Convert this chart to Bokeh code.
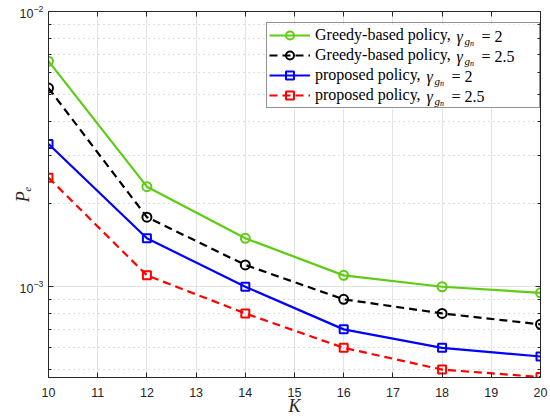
from bokeh.plotting import figure
from bokeh.models import (LinearAxis, LogAxis, FixedTicker, Legend, LegendItem,
                          Range1d)
from bokeh.core.properties import value
from bokeh.embed import file_html
from bokeh.resources import INLINE

# ---- data ----
K = [10, 12, 14, 16, 18, 20]
greedy_2 = [6.6e-3, 2.31e-3, 1.50e-3, 1.10e-3, 1.00e-3, 9.5e-4]
greedy_25 = [5.27e-3, 1.79e-3, 1.20e-3, 9.0e-4, 8.0e-4, 7.3e-4]
proposed_2 = [3.30e-3, 1.50e-3, 1.00e-3, 7.0e-4, 6.0e-4, 5.58e-4]
proposed_25 = [2.49e-3, 1.10e-3, 8.0e-4, 6.0e-4, 5.0e-4, 4.7e-4]
x_ticks = list(range(10, 21))
y_major = [1e-3, 1e-2]
y_minor = [5e-4, 6e-4, 7e-4, 8e-4, 9e-4] + [m * 1e-3 for m in range(2, 10)]
legend_names = ["Greedy-based policy,", "Greedy-based policy,",
                "proposed policy,", "proposed policy,"]
legend_vals = ["= 2", "= 2.5", "= 2", "= 2.5"]

AX = "#262626"
GREEN = "#5fcc14"

p = figure(width=550, height=418, y_axis_type="log", output_backend="svg",
           toolbar_location=None, x_range=Range1d(10, 20),
           y_range=Range1d(4.68e-4, 1e-2),
           min_border_left=48, min_border_right=10, min_border_top=11,
           min_border_bottom=10)
p.background_fill_color = "white"
p.outline_line_color = AX
p.outline_line_width = 1

# axes styling
for ax in p.xaxis + p.yaxis:
    ax.axis_line_color = AX
    ax.major_tick_line_color = AX
    ax.minor_tick_line_color = AX
    ax.major_tick_in = 5
    ax.major_tick_out = 0
    ax.minor_tick_in = 3
    ax.minor_tick_out = 0
    ax.major_label_text_color = AX
    ax.major_label_text_font = "Liberation Sans"
    ax.major_label_text_font_size = "12.5px"
    ax.axis_label_text_font = "Liberation Serif"
    ax.axis_label_text_font_style = "italic"
    ax.axis_label_text_font_size = "18px"
    ax.axis_label_text_color = AX

p.xaxis.ticker = FixedTicker(ticks=x_ticks)
p.yaxis.ticker = FixedTicker(ticks=y_major, minor_ticks=y_minor)
p.xaxis.axis_label = "K"
p.yaxis.axis_label = "P\u2091"
p.xaxis.major_label_standoff = 10
p.xaxis.axis_label_standoff = -4
p.yaxis.major_label_standoff = 5
p.yaxis.axis_label_standoff = -16

# top & right axes (ticks only)
top = LinearAxis(ticker=FixedTicker(ticks=x_ticks), major_label_text_font_size="1px",
                 major_label_text_color=None, major_label_standoff=0,
                 major_tick_in=5, major_tick_out=0,
                 minor_tick_in=0, minor_tick_out=0, axis_line_color=AX,
                 major_tick_line_color=AX)
right = LogAxis(ticker=FixedTicker(ticks=y_major, minor_ticks=y_minor),
                major_label_text_font_size="1px", major_label_text_color=None,
                major_label_standoff=0,
                major_tick_in=5, major_tick_out=0, minor_tick_in=3, minor_tick_out=0,
                axis_line_color=AX, major_tick_line_color=AX, minor_tick_line_color=AX)
p.add_layout(top, "above")
p.add_layout(right, "right")

# grids
p.xgrid.grid_line_color = "#e3e3e3"
p.ygrid.grid_line_color = "#e3e3e3"
p.ygrid.minor_grid_line_color = "#bdbdbd"
p.ygrid.minor_grid_line_dash = "1 4"
p.ygrid.minor_grid_line_width = 1

# series
r1l = p.line(K, greedy_2, line_color=GREEN, line_width=2.2)
r1m = p.scatter(K, greedy_2, marker="circle", size=9, line_color=GREEN,
                fill_color=None, line_width=2)
r2l = p.line(K, greedy_25, line_color="black", line_width=2.2, line_dash="8 5")
r2m = p.scatter(K, greedy_25, marker="circle", size=9, line_color="black",
                fill_color=None, line_width=2)
r3l = p.line(K, proposed_2, line_color="#0000ff", line_width=2.2)
r3m = p.scatter(K, proposed_2, marker="square", size=8, line_color="#0000ff",
                fill_color=None, line_width=2)
r4l = p.line(K, proposed_25, line_color="#ff0000", line_width=2.2, line_dash="8 5")
r4m = p.scatter(K, proposed_25, marker="square", size=8, line_color="#ff0000",
                fill_color=None, line_width=2)

# legend helpers: pixel -> data coordinates of this frame
def xd(px):
    return 10 + (px - 48) / 49.2

def yd(py):
    return 10 ** (-2 - (py - 11) / 274.7)

# white backing of the legend box (hides the grid), then the math parts of labels
p.quad(left=[xd(266)], right=[xd(537)], top=[yd(24)], bottom=[yd(108)],
       fill_color="white", line_color=None)
rows = [36, 56, 76, 96]
gx = [456, 456, 426, 426]   # where the gamma starts on each row
p.text(x=[xd(g) for g in gx], y=[yd(r) for r in rows], text=["\u03b3"] * 4,
       text_font=value("Liberation Serif"), text_font_style="italic",
       text_font_size=value("16px"), text_baseline="middle", text_color="black")
p.text(x=[xd(g + 8) for g in gx], y=[yd(r + 4) for r in rows], text=["g"] * 4,
       text_font=value("Liberation Serif"), text_font_style="italic",
       text_font_size=value("11px"), text_baseline="middle", text_color="black")
p.text(x=[xd(g + 13.5) for g in gx], y=[yd(r + 7) for r in rows], text=["n"] * 4,
       text_font=value("Liberation Serif"), text_font_style="italic",
       text_font_size=value("8px"), text_baseline="middle", text_color="black")
p.text(x=[xd(g + 25) for g in gx], y=[yd(r) for r in rows], text=legend_vals,
       text_font=value("Liberation Serif"), text_font_size=value("16px"),
       text_baseline="middle", text_color="black")

items = [LegendItem(label=legend_names[0], renderers=[r1l, r1m]),
         LegendItem(label=legend_names[1], renderers=[r2l, r2m]),
         LegendItem(label=legend_names[2], renderers=[r3l, r3m]),
         LegendItem(label=legend_names[3], renderers=[r4l, r4m])]
leg = Legend(items=items, location=(218, 269), padding=2, spacing=0,
             glyph_width=41, glyph_height=20, label_height=20, label_width=222,
             label_standoff=5, label_text_font="Liberation Serif",
             label_text_font_size="16px", label_text_color="black",
             border_line_color=AX, border_line_width=1,
             background_fill_alpha=0, margin=0)
p.add_layout(leg, "center")

open("out.html", "w").write(file_html(p, INLINE))
